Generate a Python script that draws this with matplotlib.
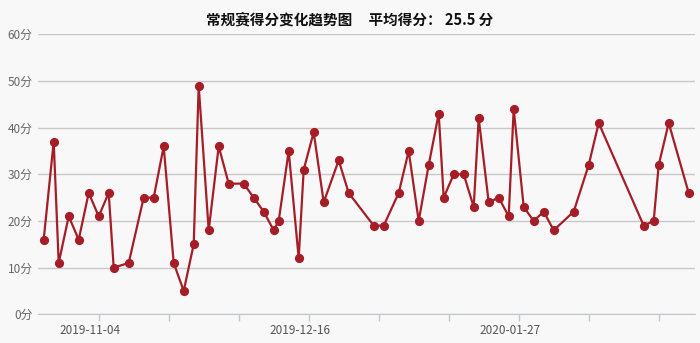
import matplotlib
matplotlib.use("Agg")
import matplotlib.pyplot as plt
import matplotlib.dates as mdates
import matplotlib.transforms as mtransforms
import numpy as np
import datetime as dt

plt.rcParams['font.family'] = ['Noto Sans CJK SC', 'DejaVu Sans']

# game dates and points
dates = [
    "2019-10-24", "2019-10-26", "2019-10-27", "2019-10-29", "2019-10-31",
    "2019-11-02", "2019-11-04", "2019-11-06", "2019-11-07", "2019-11-10",
    "2019-11-13", "2019-11-15", "2019-11-17", "2019-11-19", "2019-11-21",
    "2019-11-23", "2019-11-24", "2019-11-26", "2019-11-28", "2019-11-30",
    "2019-12-03", "2019-12-05", "2019-12-07", "2019-12-09", "2019-12-10",
    "2019-12-12", "2019-12-14", "2019-12-15", "2019-12-17", "2019-12-19",
    "2019-12-22", "2019-12-24", "2019-12-29", "2019-12-31", "2020-01-03",
    "2020-01-05", "2020-01-07", "2020-01-09", "2020-01-11", "2020-01-12",
    "2020-01-14", "2020-01-16", "2020-01-18", "2020-01-19", "2020-01-21",
    "2020-01-23", "2020-01-25", "2020-01-26", "2020-01-28", "2020-01-30",
    "2020-02-01", "2020-02-03", "2020-02-07", "2020-02-10", "2020-02-12",
    "2020-02-21", "2020-02-23", "2020-02-24", "2020-02-26", "2020-03-01",
]
points = [
    16, 37, 11, 21, 16, 26, 21, 26, 10, 11,
    25, 25, 36, 11, 5, 15, 49, 18, 36, 28,
    28, 25, 22, 18, 20, 35, 12, 31, 39, 24,
    33, 26, 19, 19, 26, 35, 20, 32, 43, 25,
    30, 30, 23, 42, 24, 25, 21, 44, 23, 20,
    22, 18, 22, 32, 41, 19, 20, 32, 41, 26,
]
avg_text = "25.5"
label_dates = ["2019-11-04", "2019-12-16", "2020-01-27"]
y_ticks = [0, 10, 20, 30, 40, 50, 60]

x = [dt.datetime.strptime(d, "%Y-%m-%d") for d in dates]

fig = plt.figure(figsize=(7, 3.43), dpi=100)
fig.patch.set_facecolor("#f8f8f8")
ax = fig.add_axes([38 / 700, (343 - 314.3) / 343, (695 - 38) / 700, 280 / 343])
ax.set_facecolor("#f8f8f8")

line_color = "#a51d27"
ax.plot(x, points, color=line_color, linewidth=1.6, marker="o",
        markersize=5.6, markerfacecolor=line_color, markeredgecolor=line_color,
        zorder=3)

ax.set_ylim(0, 60)
ax.set_yticks(y_ticks)
ax.set_yticklabels([f"{v}分" for v in y_ticks])
ax.yaxis.grid(True, color="#c8c8c8", linewidth=1)
ax.tick_params(axis="y", length=0, labelsize=8.5, labelcolor="#666666", pad=4)

start = dt.datetime(2019, 11, 4) - dt.timedelta(days=12.14)
end = dt.datetime(2019, 11, 4) + dt.timedelta(days=119.26)
ax.set_xlim(start, end)

# tick marks every two weeks, labels every six weeks
minor = [dt.datetime(2019, 11, 4) + dt.timedelta(days=14 * k) for k in range(9)]
ax.set_xticks(minor)
ax.set_xticklabels(["" for _ in minor])
ax.tick_params(axis="x", length=5, color="#bfc6d0", width=1)

for d in label_dates:
    t = ax.text(mdates.date2num(dt.datetime.strptime(d, "%Y-%m-%d")), -0.035, d,
                transform=mtransforms.blended_transform_factory(ax.transData, ax.transAxes),
                ha="center", va="top", fontsize=8.5, color="#555555")
    t.set_transform(t.get_transform() + mtransforms.ScaledTranslation(-9 / 100, 0, fig.dpi_scale_trans))

for s in ["top", "right", "left"]:
    ax.spines[s].set_visible(False)
ax.spines["bottom"].set_color("#bfc6d0")

fig.text(0.5, 1 - 19 / 343, f"常规赛得分变化趋势图     平均得分： {avg_text} 分",
         ha="center", va="center", fontsize=10.5, fontweight="bold", color="#111111")

fig.savefig("out.png", dpi=100, facecolor=fig.get_facecolor())
